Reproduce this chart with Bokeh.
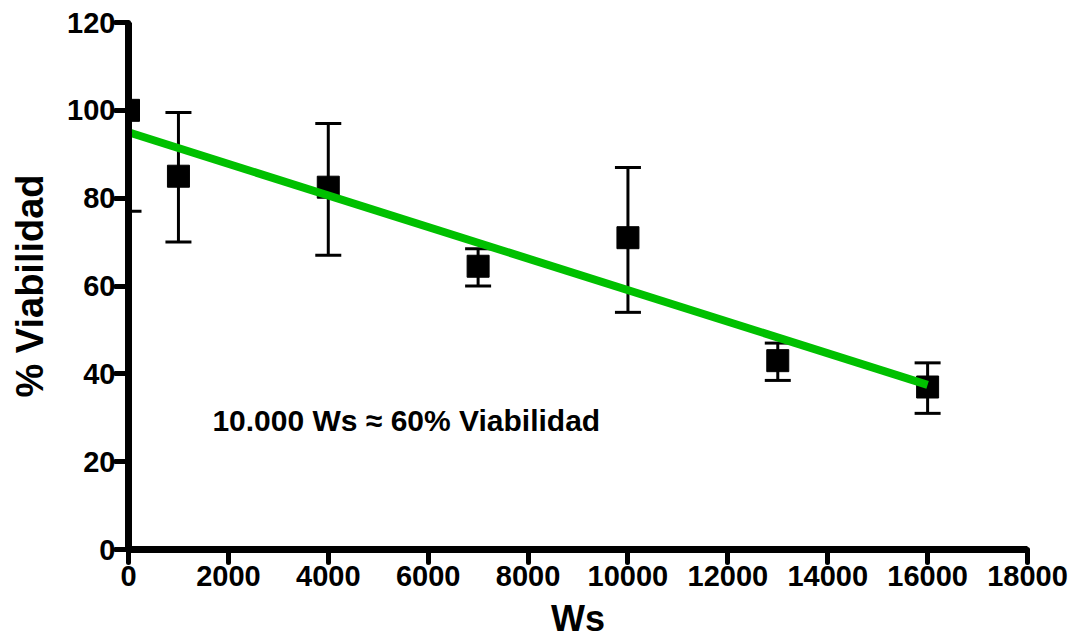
from bokeh.plotting import figure
from bokeh.models import Range1d, FixedTicker, Label
from bokeh.embed import file_html
from bokeh.resources import INLINE

# Data
ws = [0, 1000, 4000, 7000, 10000, 13000, 16000]
viabilidad = [100, 85, 82.5, 64.5, 71, 43, 37]
err_lower = [77, 70, 67, 60, 54, 38.5, 31]
err_upper = [123, 99.5, 97, 68.5, 87, 47, 42.5]
fit_x = [0, 16000]
fit_y = [95, 37.5]
x_ticks = [0, 2000, 4000, 6000, 8000, 10000, 12000, 14000, 16000, 18000]
y_ticks = [0, 20, 40, 60, 80, 100, 120]

FONT = "Liberation Sans"

p = figure(width=1077, height=641, output_backend="svg", toolbar_location=None,
           x_range=Range1d(0, 18000), y_range=Range1d(0, 120),
           min_border_left=128, min_border_right=50, min_border_top=22, min_border_bottom=92,
           x_axis_label="Ws", y_axis_label="% Viabilidad")
p.outline_line_color = None
p.xgrid.visible = False
p.ygrid.visible = False
p.background_fill_color = "white"
p.border_fill_color = "white"

for ax in (p.xaxis[0], p.yaxis[0]):
    ax.axis_line_width = 7
    ax.axis_line_color = "black"
    ax.major_tick_line_width = 5
    ax.major_tick_line_color = "black"
    ax.major_tick_line_cap = "round"
    ax.major_tick_out = 13
    ax.major_tick_in = 0
    ax.minor_tick_out = 0
    ax.minor_tick_in = 0
    ax.major_label_text_font = FONT
    ax.major_label_text_font_style = "bold"
    ax.major_label_text_font_size = "29px"
    ax.major_label_text_color = "black"
    ax.axis_label_text_font = FONT
    ax.axis_label_text_font_style = "bold"
    ax.axis_label_text_color = "black"

p.xaxis[0].ticker = FixedTicker(ticks=x_ticks)
p.yaxis[0].ticker = FixedTicker(ticks=y_ticks)
p.xaxis[0].major_label_standoff = 3
p.yaxis[0].major_label_standoff = 0
p.xaxis[0].axis_label_text_font_size = "36px"
p.yaxis[0].axis_label_text_font_size = "38px"
p.xaxis[0].axis_label_standoff = 9
p.yaxis[0].axis_label_standoff = 13

# error bars
p.segment(x0=ws, y0=err_lower, x1=ws, y1=err_upper, line_width=3, line_color="black")
p.scatter(ws, err_lower, marker="dash", size=26, line_width=3, line_color="black")
p.scatter(ws, err_upper, marker="dash", size=26, line_width=3, line_color="black")

# means
p.scatter(ws, viabilidad, marker="square", size=22, fill_color="black", line_color="black")

# regression line
p.line(fit_x, fit_y, line_width=8, line_color="#00c000")

p.add_layout(Label(x=1680, y=29.3, text="10.000 Ws \u2248 60% Viabilidad",
                   text_font=FONT, text_font_style="bold", text_font_size="30px",
                   text_color="black", text_baseline="alphabetic", text_align="left"))

open("out.html", "w").write(file_html(p, INLINE))
